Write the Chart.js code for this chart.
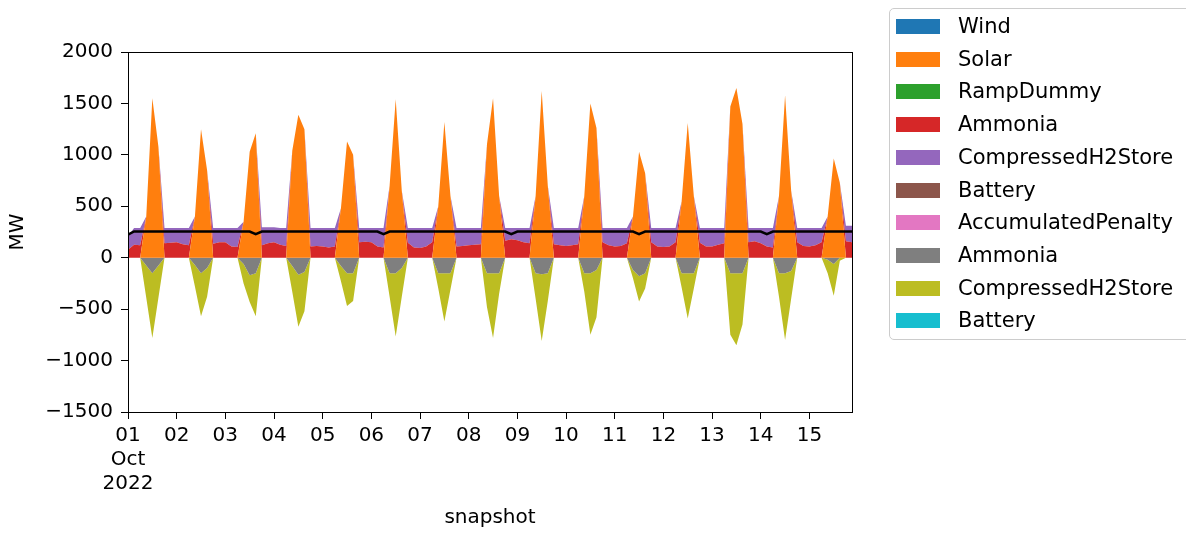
<!DOCTYPE html>
<html lang="en">
<head>
<meta charset="UTF-8">
<title>Dispatch</title>
<script src="https://cdn.jsdelivr.net/npm/chart.js"></script>
<style>
  html, body { margin: 0; padding: 0; background: #fff; }
  #wrap { position: relative; width: 1186px; height: 533px; overflow: hidden; }
  #legend {
    position: absolute; left: 889px; top: 8px; width: 320px; height: 332px;
    border: 1px solid #ccc; border-radius: 5px; box-sizing: border-box;
    font-family: 'DejaVu Sans'; font-size: 21px; color: #000;
  }
  .item { position: absolute; left: 6px; height: 24px; line-height: 24px; white-space: nowrap; }
  .swatch { position: absolute; left: 0; top: 5px; width: 44px; height: 15px; }
  .label { position: absolute; left: 62px; top: 0; }
</style>
</head>
<body>
<div id="wrap">
  <canvas id="chart" width="1186" height="533"></canvas>
  <div id="legend"></div>
</div>
<script>
// 3-hourly snapshots, 01 Oct 2022 00:00 .. 15 Oct 2022 21:00
const stepHours = 3;
const dayLabels = ['01','02','03','04','05','06','07','08','09','10','11','12','13','14','15'];
const firstLabel = ['01', 'Oct', '2022'];

// generation (one row per day: 00 03 06 09 12 15 18 21)
const solar = [
  0,0,0, 400,1550,1080, 0,0,
  0,0,0, 400,1250, 850, 0,0,
  0,0,0, 350,1030,1210, 0,0,
  0,0,0,1040,1390,1250, 0,0,
  0,0,0, 480,1130,1000, 0,0,
  0,0,0, 700,1540, 650, 0,0,
  0,0,0, 500,1320, 600, 0,0,
  0,0,0,1100,1550, 600, 0,0,
  0,0,0, 600,1620, 700, 0,0,
  0,0,0, 600,1500,1260, 0,0,
  0,0,0, 400,1030, 820, 0,0,
  0,0,0, 550,1310, 600, 0,0,
  0,0,0,1470,1650,1300, 0,0,
  0,0,0, 600,1580, 650, 0,0,
  0,0,0, 400, 965, 730, 0,0
];
const ammoniaOut = [
   78,126,120, 0,0,0, 140,145,
  150,130,120, 0,0,0, 135,150,
  150,110,105, 0,0,0, 120,140,
  150,125,115, 0,0,0, 110,115,
  110,100,110, 0,0,0, 150,155,
  150,110,100, 0,0,0, 145,100,
   95,110,150, 0,0,0, 110,115,
  120,125,130, 0,0,0, 165,180,
  170,150,140, 0,0,0, 130,120,
  115,120,130, 0,0,0, 150,120,
  110,115,140, 0,0,0, 150,110,
  105,110,150, 0,0,0, 145,110,
  110,125,140, 0,0,0, 150,160,
  140,110,100, 0,0,0, 150,115,
  110,120,150, 0,0,0, 160,150
];
const h2Out = [
  130,164,170, 0,0,0, 150,145,
  140,160,170, 0,0,0, 155,140,
  140,180,185, 0,0,0, 175,155,
  145,165,175, 0,0,0, 180,175,
  180,190,180, 0,0,0, 140,135,
  140,180,190, 0,0,0, 145,190,
  195,180,140, 0,0,0, 180,175,
  170,165,160, 0,0,0, 125,110,
  120,140,150, 0,0,0, 160,170,
  175,170,160, 0,0,0, 140,170,
  180,175,150, 0,0,0, 140,180,
  185,180,140, 0,0,0, 145,180,
  180,165,150, 0,0,0, 140,130,
  150,180,190, 0,0,0, 140,175,
  180,170,140, 0,0,0, 150,160
];
// consumption (negative)
const ammoniaIn = [
  0,0,0,  -75,-150, -75, 0,0,
  0,0,0,  -70,-150,-100, 0,0,
  0,0,0,  -60,-170,-150, 0,0,
  0,0,0,  -80,-165,-140, 0,0,
  0,0,0,  -80,-150,-150, 0,0,
  0,0,0, -150,-150,-100, 0,0,
  0,0,0, -150,-150,-150, 0,0,
  0,0,0, -150,-150,-150, 0,0,
  0,0,0, -150,-160,-150, 0,0,
  0,0,0, -150,-150,-120, 0,0,
  0,0,0, -120,-180,-150, 0,0,
  0,0,0, -150,-150,-150, 0,0,
  0,0,0, -150,-150,-150, 0,0,
  0,0,0, -150,-150,-130, 0,0,
  0,0,0,  -20, -60,   0, 0,0
];
const h2In = [
  0,0,0, -315,-630,-315, 0,0,
  0,0,0, -210,-420,-280, 0,0,
  0,0,0, -190,-260,-420, 0,0,
  0,0,0, -250,-505,-380, 0,0,
  0,0,0, -150,-320,-270, 0,0,
  0,0,0, -230,-615,-280, 0,0,
  0,0,0, -150,-470,-160, 0,0,
  0,0,0, -330,-630,-200, 0,0,
  0,0,0, -250,-650,-270, 0,0,
  0,0,0, -180,-600,-460, 0,0,
  0,0,0,  -80,-245,-150, 0,0,
  0,0,0, -140,-440,-150, 0,0,
  0,0,0, -600,-700,-500, 0,0,
  0,0,0, -230,-650,-270, 0,0,
  0,0,0, -130,-310, -30, 0,0
];
const zeroSeries = solar.map(() => 0); // Wind, RampDummy, Battery, AccumulatedPenalty: nothing dispatched
// load line
const load = [
  225,255,255,255,255,255,255,255, 255,255,255,255,255,255,255,255,
  255,255,255,255,255,230,255,255, 255,255,255,255,255,255,255,255,
  255,255,255,255,255,255,255,255, 255,255,230,255,255,255,255,255,
  255,255,255,255,255,255,255,255, 255,255,255,255,255,255,255,230,
  255,255,255,255,255,255,255,255, 255,255,255,255,255,255,255,255,
  255,255,255,255,230,255,255,255, 255,255,255,255,255,255,255,255,
  255,255,255,255,255,255,255,255, 255,230,255,255,255,255,255,255,
  255,255,255,255,255,255,255,255
];

const hours = solar.map((_, i) => i * stepHours);

const positive = [
  { name: 'Wind', color: '#1f77b4', values: zeroSeries },
  { name: 'Solar', color: '#ff7f0e', values: solar },
  { name: 'RampDummy', color: '#2ca02c', values: zeroSeries },
  { name: 'Ammonia', color: '#d62728', values: ammoniaOut },
  { name: 'CompressedH2Store', color: '#9467bd', values: h2Out },
  { name: 'Battery', color: '#8c564b', values: zeroSeries },
  { name: 'AccumulatedPenalty', color: '#e377c2', values: zeroSeries }
];
const negative = [
  { name: 'Ammonia', color: '#7f7f7f', values: ammoniaIn },
  { name: 'CompressedH2Store', color: '#bcbd22', values: h2In },
  { name: 'Battery', color: '#17becf', values: zeroSeries }
];

function stackGroup(group) {
  const running = hours.map(() => 0);
  return group.map((s, k) => {
    s.values.forEach((v, i) => { running[i] += v; });
    return {
      label: s.name,
      data: hours.map((h, i) => ({ x: h, y: running[i] })),
      backgroundColor: s.color,
      borderColor: s.color,
      borderWidth: 0,
      pointRadius: 0,
      tension: 0,
      fill: k === 0 ? 'origin' : '-1'
    };
  });
}

const datasets = stackGroup(positive).concat(stackGroup(negative));
datasets.push({
  label: 'load',
  data: hours.map((h, i) => ({ x: h, y: load[i] })),
  borderColor: '#000',
  backgroundColor: '#000',
  borderWidth: 2.5,
  pointRadius: 0,
  fill: false,
  order: -1
});

const frame = {
  id: 'frame',
  afterDatasetsDraw(chart) {
    const a = chart.chartArea, ctx = chart.ctx;
    ctx.save();
    ctx.strokeStyle = '#000';
    ctx.lineWidth = 1;
    ctx.strokeRect(Math.round(a.left) + 0.5, Math.round(a.top) + 0.5, Math.round(a.right - a.left), Math.round(a.bottom - a.top));
    ctx.restore();
  }
};

Chart.defaults.font.family = 'DejaVu Sans';
Chart.defaults.font.size = 20;
Chart.defaults.color = '#000';

new Chart(document.getElementById('chart'), {
  type: 'line',
  data: { datasets: datasets },
  options: {
    responsive: false,
    animation: false,
    layout: { padding: { left: 0, top: 52, right: 334, bottom: 0 } },
    plugins: { legend: { display: false }, tooltip: { enabled: false } },
    scales: {
      x: {
        type: 'linear',
        min: 0,
        max: hours[hours.length - 1],
        afterFit(s) { s.height = 121; },
        afterBuildTicks(s) { s.ticks = dayLabels.map((_, i) => ({ value: i * 24 })); },
        ticks: {
          autoSkip: false, maxRotation: 0, padding: 5,
          callback: (v) => v === 0 ? firstLabel : dayLabels[v / 24]
        },
        grid: { drawOnChartArea: false, drawTicks: true, tickLength: 7, color: '#000' },
        border: { display: true, color: '#000', width: 1 },
        title: { display: true, text: 'snapshot', padding: { top: 0, bottom: 3 } }
      },
      y: {
        min: -1500,
        max: 2000,
        afterFit(s) { s.width = 128; },
        ticks: {
          stepSize: 500, padding: 8,
          callback: (v) => v < 0 ? '\u2212' + (-v) : String(v)
        },
        grid: { drawOnChartArea: false, drawTicks: true, tickLength: 7, color: '#000' },
        border: { display: true, color: '#000', width: 1 },
        title: { display: true, text: 'MW', padding: { top: 6, bottom: 0 } }
      }
    }
  },
  plugins: [frame]
});

// legend
const legendEl = document.getElementById('legend');
positive.concat(negative).forEach((s, i) => {
  const item = document.createElement('div');
  item.className = 'item';
  item.style.top = (5 + i * 32.7) + 'px';
  item.innerHTML = '<span class="swatch" style="background:' + s.color + '"></span><span class="label"></span>';
  item.querySelector('.label').textContent = s.name;
  legendEl.appendChild(item);
});
</script>
</body>
</html>
